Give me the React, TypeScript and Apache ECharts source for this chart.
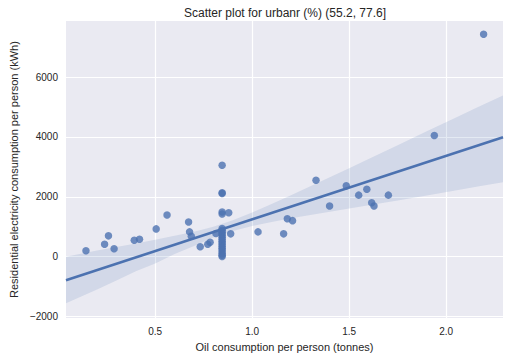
import React, { useEffect, useRef } from "react";
import * as echarts from "echarts";

// Scatter data: oil consumption (tonnes) vs residential electricity (kWh)
const oilX: number[] = [
  0.143, 0.239, 0.259, 0.288, 0.392, 0.419, 0.505, 0.561, 0.672, 0.677, 0.686,
  0.732, 0.771, 0.783, 0.813,
  0.845, 0.845, 0.845, 0.845, 0.845, 0.845, 0.845, 0.845, 0.845, 0.845, 0.845,
  0.845, 0.845, 0.845, 0.845, 0.845, 0.845, 0.845, 0.845, 0.845, 0.845, 0.845,
  0.879, 0.889, 1.03, 1.162, 1.181, 1.208, 1.329, 1.399, 1.485, 1.549, 1.591,
  1.616, 1.628, 1.702, 1.939, 2.193,
];
const elecY: number[] = [
  199, 418, 696, 265, 551, 584, 929, 1393, 1161, 829, 683,
  332, 418, 484, 773,
  3051, 2133, 2110, 1493, 1426, 939, 880, 820, 760, 700, 640,
  580, 520, 460, 400, 340, 280, 220, 160, 100, 50, 10,
  1469, 763, 829, 763, 1270, 1204, 2554, 1691, 2365, 2056, 2255,
  1801, 1691, 2056, 4046, 7430,
];

// Regression line end points
const fitX: number[] = [0.04, 2.293];
const fitY: number[] = [-786, 3990];

// Confidence band
const bandX: number[] = [0.04, 0.2, 0.3, 0.4, 0.5, 0.6, 0.7, 0.8, 0.9, 1.0, 1.1, 1.2, 1.3, 1.4, 1.5, 1.6, 1.75, 1.9, 2.04, 2.17, 2.293];
const bandUpper: number[] = [0, 203, 322, 443, 567, 696, 836, 1001, 1213, 1472, 1756, 2051, 2351, 2654, 2950, 3265, 3724, 4185, 4615, 5014, 5385];
const bandLower: number[] = [-1550, -1097, -792, -489, -230, 90, 360, 640, 861, 1026, 1160, 1280, 1390, 1500, 1610, 1720, 1880, 2040, 2200, 2350, 2487];

const xTicks: number[] = [0.5, 1.0, 1.5, 2.0];
const yTicks: number[] = [-2000, 0, 2000, 4000, 6000];

const TEXT = "#262626";
const FONT = "Liberation Sans, Arial, sans-serif";
const BLUE = "#4C72B0";

export default function App() {
  const ref = useRef<HTMLDivElement>(null);
  useEffect(() => {
    if (!ref.current) return;
    const chart = echarts.init(ref.current, undefined, { renderer: "svg" });
    const option: any = {
      animation: false,
      backgroundColor: "#ffffff",
      title: {
        text: "Scatter plot for urbanr (%) (55.2, 77.6]",
        left: 280,
        top: 2,
        textAlign: "center",
        textStyle: { fontSize: 12, fontWeight: "normal", color: TEXT, fontFamily: FONT },
      },
      grid: {
        left: 57,
        right: 7,
        top: 21,
        bottom: 38,
        show: true,
        backgroundColor: "#EAEAF2",
        borderWidth: 0,
      },
      xAxis: {
        type: "value",
        min: 0.04,
        max: 2.293,
        name: "Oil consumption per person (tonnes)",
        nameLocation: "middle",
        nameGap: 17,
        nameTextStyle: { fontSize: 11, color: TEXT, fontFamily: FONT },
        axisLine: { show: false },
        axisTick: { show: false, customValues: xTicks },
        axisLabel: {
          customValues: xTicks,
          formatter: (v: number) => v.toFixed(1),
          fontSize: 10,
          color: TEXT,
          fontFamily: FONT,
          margin: 8,
        },
        splitLine: { show: true, lineStyle: { color: "#ffffff", width: 1.2 } },
      },
      yAxis: {
        type: "value",
        min: -2050,
        max: 7870,
        name: "Residential electricity consumption per person (kWh)",
        nameLocation: "middle",
        nameGap: 40,
        nameTextStyle: { fontSize: 11, color: TEXT, fontFamily: FONT },
        axisLine: { show: false },
        axisTick: { show: false, customValues: yTicks },
        axisLabel: {
          customValues: yTicks,
          formatter: (v: number) => (v < 0 ? "\u2212" + Math.abs(v) : String(v)),
          fontSize: 10,
          color: TEXT,
          fontFamily: FONT,
          margin: 8,
        },
        splitLine: { show: true, lineStyle: { color: "#ffffff", width: 1.2 } },
      },
      series: [
        {
          type: "custom",
          silent: true,
          data: [[0]],
          clip: true,
          renderItem: (_params: any, api: any) => {
            const pts: number[][] = [];
            for (let i = 0; i < bandX.length; i++) pts.push(api.coord([bandX[i], bandUpper[i]]));
            for (let i = bandX.length - 1; i >= 0; i--) pts.push(api.coord([bandX[i], bandLower[i]]));
            return {
              type: "polygon",
              shape: { points: pts },
              style: { fill: BLUE, opacity: 0.15 },
            };
          },
          z: 1,
        },
        {
          type: "scatter",
          data: oilX.map((x, i) => [x, elecY[i]]),
          symbolSize: 7.5,
          itemStyle: { color: BLUE, opacity: 0.8 },
          z: 2,
        },
        {
          type: "line",
          data: fitX.map((x, i) => [x, fitY[i]]),
          symbol: "none",
          lineStyle: { color: BLUE, width: 2.5 },
          z: 3,
        },
      ],
    };
    chart.setOption(option);
    return () => chart.dispose();
  }, []);
  return (
    <div
      ref={ref}
      style={{ position: "fixed", left: 0, top: 0, width: 510, height: 357 }}
    />
  );
}
